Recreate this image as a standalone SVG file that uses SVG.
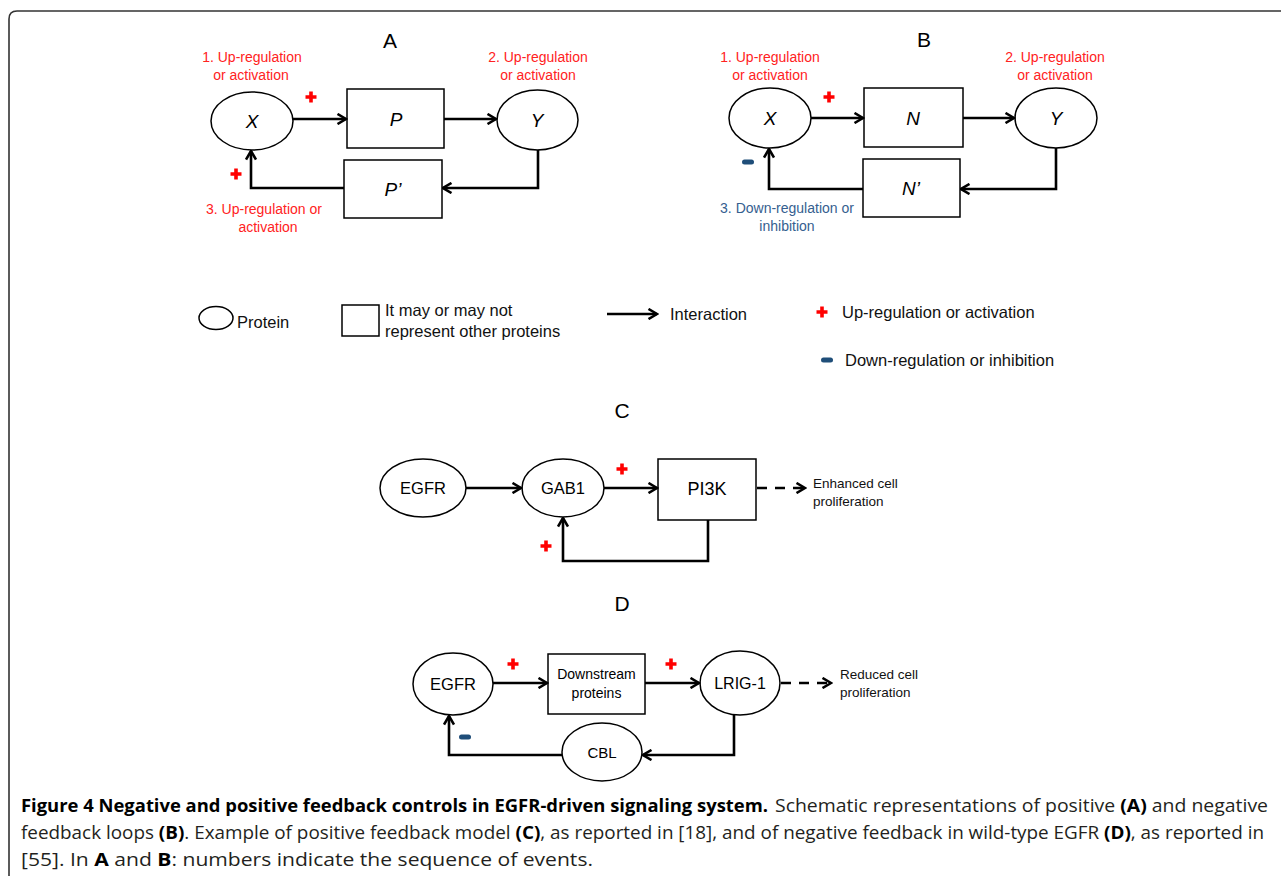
<svg xmlns="http://www.w3.org/2000/svg" width="1281" height="876" viewBox="0 0 1281 876">
<style>
.node{fill:#fff;stroke:#000;stroke-width:1.5}
.lbl{font-family:"Liberation Sans",Arial,sans-serif;fill:#000;text-anchor:middle}
.it{font-style:italic;font-size:19px}
.red{font-family:"Liberation Sans",Arial,sans-serif;font-size:14px;fill:#f22;text-anchor:middle}
.blue{font-family:"Liberation Sans",Arial,sans-serif;font-size:14px;fill:#35608f;text-anchor:middle}
.panel{font-family:"Liberation Sans",Arial,sans-serif;font-size:21px;fill:#000;text-anchor:middle}
.leg{font-family:"Liberation Sans",Arial,sans-serif;font-size:16.5px;fill:#111}
.small{font-family:"Liberation Sans",Arial,sans-serif;font-size:13.5px;fill:#111}
.edge{fill:none;stroke:#000;stroke-width:2.6;marker-end:url(#arr)}
.dash{fill:none;stroke:#000;stroke-width:2.6;stroke-dasharray:10 8;marker-end:url(#arr)}
.cap{font-family:"Open Sans","Noto Sans",sans-serif;font-size:18.5px;fill:#231f20}
.b{font-weight:bold;fill:#000}
</style>
<defs>
<marker id="arr" viewBox="0 0 12 12" refX="10.5" refY="6" markerWidth="12" markerHeight="12" markerUnits="userSpaceOnUse" orient="auto">
<path d="M2,1 L10.5,6 L2,11" fill="none" stroke="#000" stroke-width="2.6"/>
</marker>
<path id="plus" d="M-5.5,0 H5.5 M0,-5.5 V5.5" stroke="#f00" stroke-width="3.6" fill="none"/>
<rect id="minus" x="-6" y="-2.5" width="12" height="5" rx="2.5" fill="#1f4e79"/>
</defs>
<path d="M9,876 V19 Q9,11 17,11 H1281" fill="none" stroke="#333" stroke-width="1.6"/>

<!-- Panel A -->
<text class="panel" x="390" y="48">A</text>
<g id="A-X"><ellipse class="node" cx="252" cy="121" rx="41" ry="29"/><text class="lbl it" x="252" y="128">X</text></g>
<g id="A-P"><rect class="node" x="347" y="89" width="97" height="59"/><text class="lbl it" x="396" y="126">P</text></g>
<g id="A-Y"><ellipse class="node" cx="537.5" cy="120" rx="40.5" ry="30"/><text class="lbl it" x="537" y="127">Y</text></g>
<g id="A-P2"><rect class="node" x="344" y="160" width="98" height="58"/><text class="lbl it" x="393" y="196">P’</text></g>
<g id="A-labels">
<text class="red" x="252" y="62">1. Up-regulation</text><text class="red" x="251" y="80">or activation</text>
<text class="red" x="538" y="62">2. Up-regulation</text><text class="red" x="538" y="80">or activation</text>
<text class="red" x="264" y="214">3. Up-regulation or</text><text class="red" x="268" y="232">activation</text>
<use href="#plus" x="311" y="97"/><use href="#plus" x="236" y="174"/>
</g>

<!-- Panel B -->
<text class="panel" x="924" y="47">B</text>
<g id="B-X"><ellipse class="node" cx="770" cy="118" rx="41" ry="30"/><text class="lbl it" x="770" y="125">X</text></g>
<g id="B-N"><rect class="node" x="864" y="88" width="99" height="59"/><text class="lbl it" x="913" y="125">N</text></g>
<g id="B-Y"><ellipse class="node" cx="1056" cy="118" rx="41" ry="30"/><text class="lbl it" x="1056" y="125">Y</text></g>
<g id="B-N2"><rect class="node" x="863" y="159" width="97" height="58"/><text class="lbl it" x="911" y="195">N’</text></g>
<g id="B-labels">
<text class="red" x="770" y="62">1. Up-regulation</text><text class="red" x="770" y="80">or activation</text>
<text class="red" x="1055" y="62">2. Up-regulation</text><text class="red" x="1055" y="80">or activation</text>
<text class="blue" x="787" y="213">3. Down-regulation or</text><text class="blue" x="787" y="231">inhibition</text>
<use href="#plus" x="829" y="97"/><use href="#minus" x="748" y="162"/>
</g>

<!-- Legend -->
<g id="legend">
<ellipse class="node" cx="216" cy="318" rx="17" ry="11.5"/>
<text class="leg" x="237" y="328">Protein</text>
<rect class="node" x="342" y="305" width="37" height="31"/>
<text class="leg" x="385" y="316">It may or may not</text>
<text class="leg" x="385" y="337">represent other proteins</text>
<path class="edge" d="M607,314 H657"/>
<text class="leg" x="670" y="320">Interaction</text>
<use href="#plus" x="822" y="312"/>
<text class="leg" x="842" y="318">Up-regulation or activation</text>
<use href="#minus" x="827" y="360"/>
<text class="leg" x="845" y="366">Down-regulation or inhibition</text>
</g>

<!-- Panel C -->
<text class="panel" x="622" y="418">C</text>
<g id="C-EGFR"><ellipse class="node" cx="423" cy="488" rx="43" ry="29"/><text class="lbl" style="font-size:16.5px" x="423" y="494">EGFR</text></g>
<g id="C-GAB1"><ellipse class="node" cx="563" cy="488" rx="41" ry="29"/><text class="lbl" style="font-size:16.5px" x="563" y="494">GAB1</text></g>
<g id="C-PI3K"><rect class="node" x="658" y="459" width="98" height="61"/><text class="lbl" style="font-size:18px" x="707" y="495">PI3K</text></g>
<g id="C-out"><text class="small" x="813" y="488">Enhanced cell</text><text class="small" x="813" y="506">proliferation</text></g>
<g id="C-signs"><use href="#plus" x="622" y="469"/><use href="#plus" x="546" y="546"/></g>

<!-- Panel D -->
<text class="panel" x="622" y="611">D</text>
<g id="D-EGFR"><ellipse class="node" cx="453" cy="684" rx="40" ry="31"/><text class="lbl" style="font-size:16.5px" x="453" y="690">EGFR</text></g>
<g id="D-DS"><rect class="node" x="548" y="654" width="97" height="60"/><text class="lbl" style="font-size:14px" x="596.5" y="679">Downstream</text><text class="lbl" style="font-size:14px" x="596.5" y="698">proteins</text></g>
<g id="D-LRIG"><ellipse class="node" cx="740" cy="683" rx="40" ry="32"/><text class="lbl" style="font-size:16px" x="740" y="689">LRIG-1</text></g>
<g id="D-CBL"><ellipse class="node" cx="602" cy="752" rx="40" ry="29"/><text class="lbl" style="font-size:15px" x="602" y="758">CBL</text></g>
<g id="D-out"><text class="small" x="840" y="679">Reduced cell</text><text class="small" x="840" y="697">proliferation</text></g>
<g id="D-signs"><use href="#plus" x="513" y="664"/><use href="#plus" x="671" y="664"/><use href="#minus" x="465" y="737"/></g>

<!-- Connectors -->
<g id="connectors">
<path class="edge" d="M293,119 H346"/>
<path class="edge" d="M444,119 H496"/>
<path class="edge" d="M538,150 V188 H443"/>
<path class="edge" d="M344,188 H251 V151"/>
<path class="edge" d="M811,118 H863"/>
<path class="edge" d="M963,118 H1014"/>
<path class="edge" d="M1056,148 V189 H961"/>
<path class="edge" d="M863,189 H769 V149"/>
<path class="edge" d="M466,488 H521"/>
<path class="edge" d="M604,488 H657"/>
<path class="dash" d="M757,488 H805"/>
<path class="edge" d="M708,520 V561 H563 V518"/>
<path class="edge" d="M493,683 H547"/>
<path class="edge" d="M645,683 H699"/>
<path class="dash" d="M781,683 H831"/>
<path class="edge" d="M734,715 V755 H643"/>
<path class="edge" d="M562,755 H449 V716"/>
</g>

<!-- Caption -->
<text class="cap b" x="21" y="812" textLength="747" lengthAdjust="spacingAndGlyphs">Figure 4 Negative and positive feedback controls in EGFR-driven signaling system.</text>
<text class="cap" x="775" y="812" textLength="493" lengthAdjust="spacingAndGlyphs">Schematic representations of positive <tspan class="b">(A)</tspan> and negative</text>
<text class="cap" x="21" y="839" textLength="1243" lengthAdjust="spacingAndGlyphs">feedback loops <tspan class="b">(B)</tspan>. Example of positive feedback model <tspan class="b">(C)</tspan>, as reported in [18], and of negative feedback in wild-type EGFR <tspan class="b">(D)</tspan>, as reported in</text>
<text class="cap" x="21" y="866" textLength="572" lengthAdjust="spacingAndGlyphs">[55]. In <tspan class="b">A</tspan> and <tspan class="b">B</tspan>: numbers indicate the sequence of events.</text>
</svg>
